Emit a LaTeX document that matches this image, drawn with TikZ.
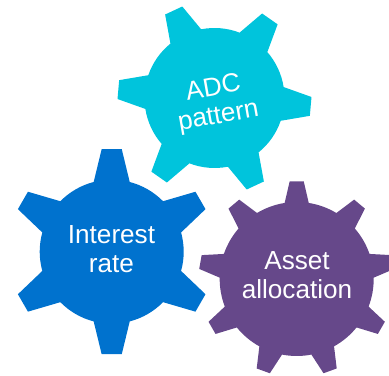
\documentclass[tikz,border=0pt]{standalone}
\usepackage{fontspec}
\setmainfont{Liberation Sans}
\definecolor{cogblue}{RGB}{0,114,206}
\definecolor{cogteal}{RGB}{0,196,220}
\definecolor{cogpurple}{RGB}{102,72,138}

% style, centre, r, R, half base, half tip, first angle, teeth
\newcommand{\cogwheel}[8]{
    \pgfmathsetmacro{\cogstep}{360/#8}
    \fill[#1,shift={(#2)}] (#7-#5:#3)
        \foreach \i in {1,...,#8} {
            -- ({#7+(\i-1)*\cogstep-#6}:#4)
            -- ({#7+(\i-1)*\cogstep+#6}:#4)
            -- ({#7+(\i-1)*\cogstep+#5}:#3)
            arc[start angle={#7+(\i-1)*\cogstep+#5},end angle={#7+\i*\cogstep-#5},radius=#3]
        } -- cycle;
}

\begin{document}
\begin{tikzpicture}[x=0.75pt,y=0.75pt]

    \tikzset{cogtext/.style={text=white,align=center,font=\fontsize{19.6}{21.4}\selectfont}}

    \useasboundingbox (0,0) rectangle (389,375);
    \clip (0,0) rectangle (389,375);

    \cogwheel{cogteal}{214.5,277}{70}{97}{14}{5.6}{55}{6}
    \cogwheel{cogblue}{111.7,123.3}{72}{103}{14.5}{5.6}{90}{6}
    \cogwheel{cogpurple}{296.7,96}{77}{98}{9}{4.1}{90}{9}

    \node[cogtext,rotate=10] (adc) at (216,272) {ADC\\pattern};
    \node[cogtext] (rate) at (111.5,126) {Interest\\rate};
    \node[cogtext] (asset) at (297,100) {Asset\\allocation};

\end{tikzpicture}
\end{document}
